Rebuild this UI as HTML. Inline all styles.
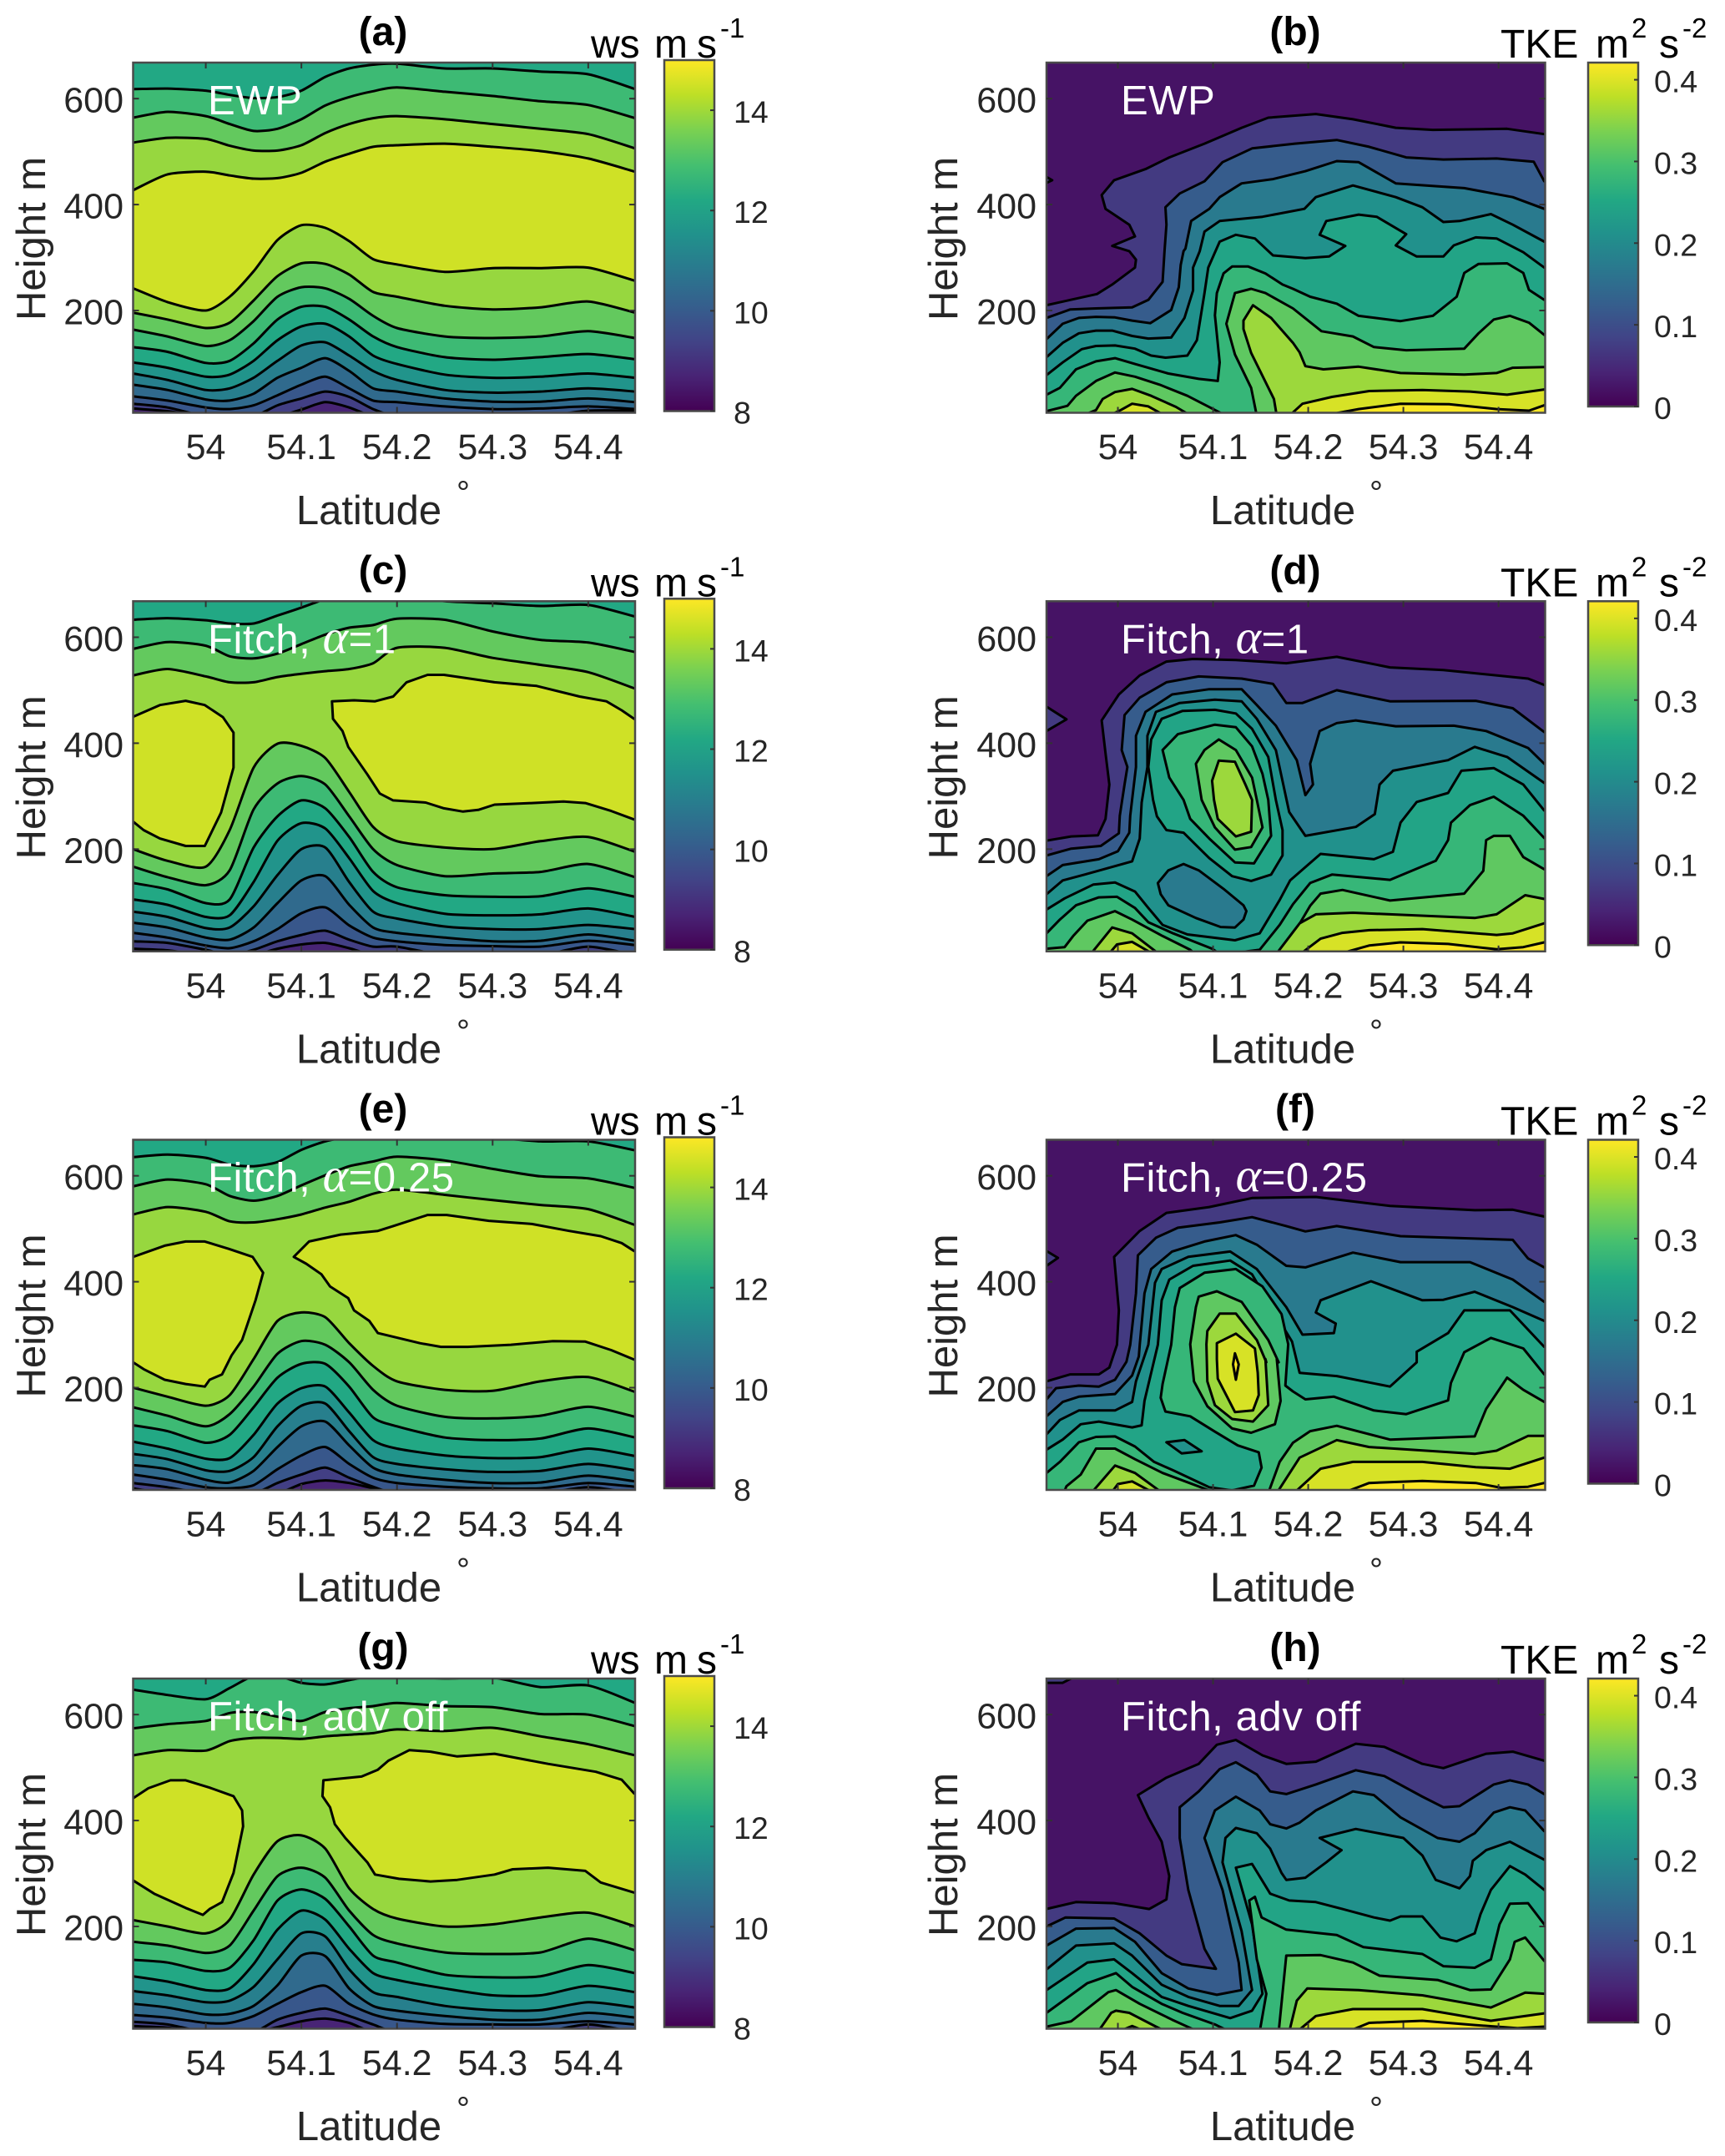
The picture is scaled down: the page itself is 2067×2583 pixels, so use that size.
<!DOCTYPE html>
<html lang="en">
<head>
<meta charset="utf-8">
<title>Wind speed and TKE cross-sections</title>
<style>
html,body{margin:0;padding:0;background:#fff}
svg{display:block}
text{font-family:"Liberation Sans",Arial,sans-serif;fill:#262626}
.ttl{font-size:48px;font-weight:bold;text-anchor:middle;fill:#000}
.cbt{font-size:48px;fill:#000}
.sup{font-size:33px}
.xl,.yl{font-size:49px;text-anchor:middle}
.deg{font-size:40px;text-anchor:middle}
.ann{font-size:49px;fill:#fff;letter-spacing:.6px}
.gr{font-family:"Liberation Serif",serif;font-style:italic;font-size:58px}
</style>
</head>
<body>
<svg id="fig" xmlns="http://www.w3.org/2000/svg" width="2067" height="2583" viewBox="0 0 2067 2583">
<defs>
<clipPath id="clipL"><rect x="159.5" y="75" width="601.5" height="419.5"/></clipPath>
<clipPath id="clipR"><rect x="1254" y="75" width="597.5" height="419.5"/></clipPath>
<linearGradient id="vir" x1="0" y1="1" x2="0" y2="0"></linearGradient>
</defs>

<g id="panel-a" transform="translate(0,0)">
<g class="marks"></g>
<text class="ttl" x="459" y="54">(a)</text>
<text class="cbt" y="69"><tspan x="708">ws</tspan><tspan x="784">m</tspan><tspan x="835">s</tspan></text>
<text class="sup" x="863" y="45" fill="#000" style="fill:#000">-1</text>
<text class="xl" x="442" y="628">Latitude</text>
<text class="deg" x="555" y="604">°</text>
<text class="yl" x="54" y="286" transform="rotate(-90 54 286)">Height m</text>
<text class="ann" x="249" y="137">EWP</text>
</g>

<g id="panel-b" transform="translate(0,0)">
<g class="marks"></g>
<text class="ttl" x="1552" y="54">(b)</text>
<text class="cbt" y="69"><tspan x="1798">TKE</tspan><tspan x="1912">m</tspan><tspan x="1988">s</tspan></text>
<text class="sup" y="45" style="fill:#000"><tspan x="1955">2</tspan><tspan x="2016">-2</tspan></text>
<text class="xl" x="1537" y="628">Latitude</text>
<text class="deg" x="1649" y="604">°</text>
<text class="yl" x="1147" y="286" transform="rotate(-90 1147 286)">Height m</text>
<text class="ann" x="1343" y="137">EWP</text>
</g>

<g id="panel-c" transform="translate(0,645.3)">
<g class="marks"></g>
<text class="ttl" x="459" y="54">(c)</text>
<text class="cbt" y="69"><tspan x="708">ws</tspan><tspan x="784">m</tspan><tspan x="835">s</tspan></text>
<text class="sup" x="863" y="45" style="fill:#000">-1</text>
<text class="xl" x="442" y="628">Latitude</text>
<text class="deg" x="555" y="604">°</text>
<text class="yl" x="54" y="286" transform="rotate(-90 54 286)">Height m</text>
<text class="ann" x="249" y="137">Fitch, <tspan class="gr" style="fill:#fff">α</tspan>=1</text>
</g>

<g id="panel-d" transform="translate(0,645.3)">
<g class="marks"></g>
<text class="ttl" x="1552" y="54">(d)</text>
<text class="cbt" y="69"><tspan x="1798">TKE</tspan><tspan x="1912">m</tspan><tspan x="1988">s</tspan></text>
<text class="sup" y="45" style="fill:#000"><tspan x="1955">2</tspan><tspan x="2016">-2</tspan></text>
<text class="xl" x="1537" y="628">Latitude</text>
<text class="deg" x="1649" y="604">°</text>
<text class="yl" x="1147" y="286" transform="rotate(-90 1147 286)">Height m</text>
<text class="ann" x="1343" y="137">Fitch, <tspan class="gr" style="fill:#fff">α</tspan>=1</text>
</g>

<g id="panel-e" transform="translate(0,1290.5)">
<g class="marks"></g>
<text class="ttl" x="459" y="54">(e)</text>
<text class="cbt" y="69"><tspan x="708">ws</tspan><tspan x="784">m</tspan><tspan x="835">s</tspan></text>
<text class="sup" x="863" y="45" style="fill:#000">-1</text>
<text class="xl" x="442" y="628">Latitude</text>
<text class="deg" x="555" y="604">°</text>
<text class="yl" x="54" y="286" transform="rotate(-90 54 286)">Height m</text>
<text class="ann" x="249" y="137">Fitch, <tspan class="gr" style="fill:#fff">α</tspan>=0.25</text>
</g>

<g id="panel-f" transform="translate(0,1290.5)">
<g class="marks"></g>
<text class="ttl" x="1552" y="54">(f)</text>
<text class="cbt" y="69"><tspan x="1798">TKE</tspan><tspan x="1912">m</tspan><tspan x="1988">s</tspan></text>
<text class="sup" y="45" style="fill:#000"><tspan x="1955">2</tspan><tspan x="2016">-2</tspan></text>
<text class="xl" x="1537" y="628">Latitude</text>
<text class="deg" x="1649" y="604">°</text>
<text class="yl" x="1147" y="286" transform="rotate(-90 1147 286)">Height m</text>
<text class="ann" x="1343" y="137">Fitch, <tspan class="gr" style="fill:#fff">α</tspan>=0.25</text>
</g>

<g id="panel-g" transform="translate(0,1936)">
<g class="marks"></g>
<text class="ttl" x="459" y="54">(g)</text>
<text class="cbt" y="69"><tspan x="708">ws</tspan><tspan x="784">m</tspan><tspan x="835">s</tspan></text>
<text class="sup" x="863" y="45" style="fill:#000">-1</text>
<text class="xl" x="442" y="628">Latitude</text>
<text class="deg" x="555" y="604">°</text>
<text class="yl" x="54" y="286" transform="rotate(-90 54 286)">Height m</text>
<text class="ann" x="249" y="137">Fitch, adv off</text>
</g>

<g id="panel-h" transform="translate(0,1936)">
<g class="marks"></g>
<text class="ttl" x="1552" y="54">(h)</text>
<text class="cbt" y="69"><tspan x="1798">TKE</tspan><tspan x="1912">m</tspan><tspan x="1988">s</tspan></text>
<text class="sup" y="45" style="fill:#000"><tspan x="1955">2</tspan><tspan x="2016">-2</tspan></text>
<text class="xl" x="1537" y="628">Latitude</text>
<text class="deg" x="1649" y="604">°</text>
<text class="yl" x="1147" y="286" transform="rotate(-90 1147 286)">Height m</text>
<text class="ann" x="1343" y="137">Fitch, adv off</text>
</g>
</svg>

<script>
// ---------- axis values ----------
const latTicks = [54, 54.1, 54.2, 54.3, 54.4];
const latTickLabels = ['54', '54.1', '54.2', '54.3', '54.4'];
const heightTicks = [200, 400, 600];
const heightTickLabels = ['200', '400', '600'];
const wsTicks = [8, 10, 12, 14];
const wsTickLabels = ['8', '10', '12', '14'];
const tkeTicks = [0, 0.1, 0.2, 0.3, 0.4];
const tkeTickLabels = ['0', '0.1', '0.2', '0.3', '0.4'];

// latitudes shared by every single-valued wind-speed contour (deg N)
const wsLat = [53.924,53.96,54,54.025,54.05,54.075,54.1,54.125,54.15,54.175,54.2,54.25,54.3,54.35,54.4,54.449];
// value of the background (index 0) and of the band filled by contour k (m2 s-2)
const tkeBands = [0.021,0.071,0.122,0.172,0.21,0.244,0.277,0.315,0.357,0.395,0.42];

// ---------- panel (a) wind speed: band value under each contour, contour height (m) at wsLat ----------
const panelA = [
{band:12.75,h:[618,619,615,607,601,603,615,641,657,664,666,657,657,651,646,618]},
{band:13.3,h:[564,575,567,552,539,543,561,587,603,614,621,613,605,595,588,563]},
{band:13.9,h:[517,526,524,511,502,502,512,535,552,563,567,561,552,543,533,506]},
{band:14.5,h:[427,457,462,455,449,450,460,481,496,509,512,515,509,501,487,462]},
{band:13.9,h:[242,216,200,226,274,333,361,356,331,297,287,273,280,280,281,256]},
{band:13.3,h:[196,183,167,177,219,265,289,288,268,235,226,209,202,206,217,196]},
{band:12.75,h:[164,151,133,144,180,226,244,242,222,190,167,151,148,151,161,148]},
{band:12.2,h:[131,122,101,105,138,183,207,207,183,151,131,112,107,112,118,108]},
{band:11.6,h:[102,92,75,79,105,144,170,175,151,115,99,79,73,75,81,73]},
{band:11,h:[81,69,50,53,73,105,134,140,115,86,69,50,45,47,53,47]},
{band:10.4,h:[60,50,32,30,43,73,92,110,86,53,47,34,28,28,34,27]},
{band:9.9,h:[38,30,17,14,21,40,60,75,53,30,27,19,14,15,19,14]},
{band:9.3,h:[24,17,0,0,0,21,34,47,37,14,0,0,0,0,11,11]},
{band:8.7,h:[15,10,0,0,0,0,13,27,17,0,0,0,0,0,0,0]}
];

// ---------- panel (c) ----------
const panelC = [
{band:12.75,h:[633,636,632,626,626,641,656,672,682,682,679,668,664,659,661,639]},
{band:13.3,h:[578,591,584,564,560,569,587,605,618,623,635,633,611,595,590,572]},
{band:13.9,h:[528,540,526,515,515,525,531,536,540,551,580,580,561,548,534,503]},
{band:14.5,closed:true,lat:[53.9,53.924,53.952,53.979,53.999,54.018,54.029,54.029,54.016,53.999,53.979,53.952,53.935,53.924,53.9],h:[450,450,472,480,472,449,420,354,269,206,206,220,236,252,252]},
{band:14.5,closed:true,lat:[54.132,54.155,54.177,54.196,54.21,54.232,54.249,54.302,54.346,54.391,54.419,54.435,54.448,54.47,54.47,54.448,54.424,54.397,54.374,54.341,54.302,54.285,54.269,54.249,54.23,54.196,54.182,54.169,54.149,54.143,54.133],h:[479,481,479,488,515,529,529,515,508,488,479,462,446,446,256,256,272,287,290,287,284,274,271,277,288,292,305,341,393,423,446]},
{band:13.3,h:[200,178,167,236,354,399,395,372,308,242,215,203,200,215,223,195]},
{band:12.75,h:[167,147,132,160,275,324,338,322,262,200,170,149,154,157,172,147]},
{band:12.2,h:[136,124,98,105,203,262,292,277,223,157,128,113,110,111,126,110]},
{band:11.6,h:[105,95,72,75,138,216,249,239,183,121,98,78,75,77,88,72]},
{band:11,h:[82,72,51,52,92,151,200,203,138,82,69,54,49,49,57,49]},
{band:10.4,h:[61,52,33,29,52,98,141,149,95,52,42,33,26,27,39,27]},
{band:9.9,h:[42,33,18,13,26,49,79,90,56,33,26,19,17,16,27,19]},
{band:9.3,h:[26,23,10,0,10,26,38,46,29,16,16,0,0,0,16,0]},
{band:8.7,h:[12,9,0,0,0,12,20,23,13,0,0,0,0,0,0,0]}
];

// ---------- panel (e) ----------
const panelE = [
{band:12.75,h:[635,640,634,621,618,626,649,665,673,675,675,675,672,665,665,648]},
{band:13.3,h:[580,593,584,562,553,562,582,601,618,627,636,629,613,599,595,577]},
{band:13.9,h:[527,541,532,514,512,518,527,540,551,566,574,564,554,545,537,507]},
{band:14.5,closed:true,lat:[53.9,53.924,53.957,53.979,53.999,54.024,54.049,54.06,54.052,54.038,54.027,54.017,54.004,53.999,53.979,53.957,53.935,53.924,53.9],h:[447,447,468,476,476,462,447,417,365,290,261,225,215,202,207,215,235,248,248]},
{band:14.5,closed:true,lat:[54.092,54.108,54.141,54.18,54.196,54.232,54.252,54.296,54.341,54.38,54.413,54.435,54.448,54.47,54.47,54.448,54.424,54.397,54.363,54.319,54.274,54.246,54.224,54.18,54.171,54.155,54.149,54.13,54.121,54.105],h:[447,476,489,496,505,526,526,515,509,496,486,473,458,458,253,253,271,287,288,281,277,277,284,303,326,346,369,391,414,434]},
{band:13.3,h:[200,183,166,186,254,326,342,333,284,241,212,196,194,212,220,192]},
{band:12.75,h:[163,147,127,150,202,264,288,281,248,196,166,145,142,147,164,145]},
{band:12.2,h:[129,118,96,111,163,219,245,245,202,144,127,106,101,104,123,106]},
{band:11.6,h:[98,85,66,67,111,170,199,202,153,101,85,72,67,69,85,71]},
{band:11,h:[75,65,44,43,69,127,166,170,118,69,56,46,41,43,56,44]},
{band:10.4,h:[54,46,26,21,43,88,127,136,91,49,36,26,20,21,34,23]},
{band:9.9,h:[36,26,12,10,16,46,72,88,56,30,20,13,10,10,20,13]},
{band:9.3,h:[20,12,0,0,0,20,36,49,30,13,0,0,0,0,12,0]},
{band:8.7,h:[10,0,0,0,0,0,18,25,20,10,0,0,0,0,0,0]}
];

// ---------- panel (g) ----------
const panelG = [
{band:12.75,h:[647,637,629,650,673,673,660,657,665,673,673,668,670,652,655,622]},
{band:13.3,h:[574,582,588,603,605,596,588,605,612,616,622,616,614,601,600,578]},
{band:13.9,h:[523,533,532,550,556,556,554,559,562,565,572,569,575,559,544,523]},
{band:14.5,closed:true,lat:[53.9,53.924,53.94,53.963,53.979,54.004,54.029,54.038,54.039,54.029,54.017,54.004,53.997,53.979,53.946,53.924,53.9],h:[442,442,461,476,476,462,446,419,389,301,246,233,222,235,262,287,287]},
{band:14.5,closed:true,lat:[54.123,54.163,54.18,54.191,54.213,54.235,54.263,54.302,54.358,54.408,54.435,54.448,54.47,54.47,54.448,54.413,54.397,54.358,54.321,54.302,54.263,54.235,54.202,54.177,54.169,54.146,54.135,54.13,54.122],h:[476,483,496,513,533,530,521,526,507,492,477,451,451,264,264,283,305,311,308,298,288,285,290,298,321,367,393,425,446]},
{band:13.3,h:[212,200,187,213,298,361,372,347,272,233,215,200,204,217,226,200]},
{band:12.75,h:[171,164,150,164,230,295,311,292,230,184,168,151,148,151,177,155]},
{band:12.2,h:[137,132,116,122,174,249,270,252,200,145,132,109,104,106,127,112]},
{band:11.6,h:[106,96,80,83,129,194,230,213,158,112,99,83,70,70,88,76]},
{band:11,h:[78,70,57,60,86,138,187,181,119,76,67,50,42,42,57,47]},
{band:10.4,h:[54,47,34,35,50,89,145,144,83,50,41,31,24,24,37,28]},
{band:9.9,h:[33,28,18,18,31,54,76,88,54,34,24,16,15,15,21,15]},
{band:9.3,h:[20,15,0,0,0,24,37,45,31,15,0,0,0,0,15,0]},
{band:8.7,h:[12,9,0,0,0,10,21,26,18,0,0,0,0,0,0,0]}
];

// ---------- panel (b) TKE: index into tkeBands, contour path in latitude / height ----------
const panelB = [
{k:1,closed:true,lat:[53.91,53.925,53.931,53.925,53.91],h:[452,452,446,441,441]},
{k:1,lat:[53.925,53.95,53.978,53.994,54.018,54.019,54.012,53.994,54.018,54.012,53.987,53.983,53.996,54.029,54.054,54.091,54.13,54.158,54.208,54.247,54.292,54.331,54.409,54.448],h:[210,220,231,249,281,296,312,322,340,362,392,418,446,467,489,515,545,564,571,561,545,541,543,533]},
{k:2,lat:[53.925,53.95,53.977,54.015,54.032,54.047,54.049,54.051,54.05,54.065,54.091,54.11,54.141,54.186,54.23,54.264,54.303,54.342,54.398,54.437,54.448],h:[186,202,204,206,220,254,312,362,395,421,444,480,506,515,522,509,489,485,487,481,444]},
{k:3,lat:[53.925,53.942,53.959,53.977,53.997,54.015,54.034,54.056,54.064,54.066,54.069,54.071,54.077,54.096,54.107,54.13,54.163,54.197,54.23,54.253,54.292,54.364,54.415,54.448],h:[146,175,186,188,187,181,176,201,244,286,312,317,369,392,414,440,448,463,482,480,440,431,414,392]},
{k:4,lat:[53.925,53.942,53.959,53.977,53.994,54.015,54.032,54.056,54.07,54.079,54.079,54.086,54.091,54.107,54.152,54.196,54.208,54.247,54.292,54.32,54.342,54.359,54.392,54.415,54.448],h:[112,139,157,162,162,152,147,149,186,238,281,312,349,369,377,392,414,436,414,395,367,369,382,362,330]},
{k:5,lat:[53.925,53.942,53.962,53.977,53.997,54.018,54.035,54.05,54.073,54.083,54.091,54.095,54.107,54.124,54.144,54.163,54.197,54.222,54.239,54.212,54.219,54.253,54.272,54.303,54.292,54.314,54.342,54.353,54.376,54.398,54.426,54.448],h:[78,102,127,133,134,128,115,111,115,144,233,281,330,343,336,304,299,302,322,343,369,381,377,344,323,302,302,323,338,336,310,281]},
{k:6,lat:[53.925,53.939,53.956,53.977,53.997,54.018,54.053,54.085,54.105,54.107,54.102,54.104,54.111,54.12,54.137,54.155,54.173,54.184,54.202,54.23,54.253,54.297,54.331,54.356,54.364,54.379,54.409,54.426,54.432,54.448],h:[41,54,89,104,110,99,81,71,67,102,191,233,270,283,283,270,249,241,226,213,190,180,190,226,271,288,289,271,239,220]},
{k:7,lat:[53.925,53.947,53.956,53.977,53.997,54.018,54.044,54.073,54.099,54.114,54.146,54.14,54.123,54.114,54.123,54.14,54.155,54.184,54.214,54.247,54.269,54.303,54.364,54.379,54.395,54.412,54.432,54.448],h:[10,20,39,67,83,75,60,39,15,1,1,54,117,175,233,241,233,204,161,151,131,125,128,157,183,190,177,154]},
{k:8,closed:true,lat:[53.962,53.977,53.984,53.997,54.015,54.035,54.061,54.077],h:[1,12,33,46,52,39,18,1]},
{k:8,closed:true,lat:[54.167,54.164,54.14,54.132,54.132,54.142,54.161,54.184,54.191,54.197,54.216,54.253,54.297,54.364,54.398,54.415,54.47,54.47],h:[1,33,120,165,181,210,186,139,121,95,89,94,82,79,82,92,94,1]},
{k:9,closed:true,lat:[53.99,54.003,54.015,54.032,54.05],h:[1,12,24,19,1]},
{k:9,closed:true,lat:[54.18,54.194,54.225,54.264,54.32,54.37,54.409,54.448,54.47,54.47],h:[1,24,37,48,50,47,41,51,51,1]},
{k:10,closed:true,lat:[54.214,54.253,54.297,54.348,54.398,54.432,54.448,54.47,54.47],h:[1,14,24,23,14,11,21,21,1]}
];

// ---------- panel (d) ----------
const panelD = [
{k:1,closed:true,lat:[53.91,53.925,53.946,53.925,53.91],h:[469,469,445,423,423]},
{k:1,lat:[53.925,53.951,53.979,53.987,53.991,53.987,53.983,54.001,54.023,54.051,54.079,54.124,54.177,54.23,54.286,54.342,54.431,54.448],h:[216,224,226,257,322,381,443,492,528,554,559,557,551,563,543,538,522,510]},
{k:2,lat:[53.925,53.951,53.982,54.001,54.002,54.007,54.01,54.004,54.007,54.023,54.051,54.085,54.13,54.163,54.177,54.194,54.23,54.286,54.376,54.415,54.448],h:[188,201,206,230,263,322,355,387,453,486,515,526,522,512,476,476,500,479,480,466,421]},
{k:3,lat:[53.925,53.942,53.98,54,54.012,54.013,54.019,54.019,54.029,54.057,54.096,54.13,54.146,54.166,54.188,54.197,54.205,54.202,54.212,54.23,54.25,54.292,54.353,54.387,54.431,54.448],h:[149,170,181,196,231,263,355,414,459,492,502,502,472,433,368,302,322,361,423,438,443,432,433,423,391,361]},
{k:4,lat:[53.925,53.942,53.965,54.015,54.023,54.025,54.031,54.031,54.04,54.065,54.102,54.13,54.146,54.166,54.18,54.197,54.25,54.27,54.275,54.289,54.347,54.375,54.409,54.448],h:[115,141,152,177,220,288,355,414,459,476,482,479,446,387,270,225,242,266,322,348,368,393,374,325]},
{k:3,closed:true,lat:[54.042,54.053,54.069,54.085,54.111,54.132,54.135,54.132,54.123,54.108,54.082,54.053,54.045],h:[136,160,172,160,125,94,83,67,52,53,70,94,115]},
{k:5,lat:[53.925,53.944,53.974,53.997,54.018,54.032,54.047,54.073,54.123,54.149,54.17,54.181,54.213,54.269,54.289,54.297,54.314,54.347,54.361,54.395,54.426,54.448],h:[86,107,133,137,120,89,57,39,28,41,104,141,191,181,195,250,289,306,348,353,322,273]},
{k:5,closed:true,lat:[54.037,54.032,54.035,54.046,54.068,54.102,54.124,54.141,54.158,54.166,54.173,54.173,54.161,54.14,54.12,54.096,54.069,54.051,54.041],h:[293,355,407,446,461,463,456,427,374,293,236,188,152,140,149,183,231,236,262]},
{k:6,closed:true,lat:[54.069,54.054,54.047,54.063,54.102,54.124,54.141,54.152,54.158,54.161,54.143,54.123,54.096,54.076],h:[293,335,387,417,435,430,394,342,293,225,173,175,220,257]},
{k:7,closed:true,lat:[54.088,54.082,54.091,54.106,54.124,54.141,54.146,54.152,54.14,54.123,54.102],h:[293,361,387,407,387,335,293,241,204,199,241]},
{k:8,closed:true,lat:[54.101,54.099,54.106,54.123,54.134,54.141,54.14,54.124,54.105],h:[293,329,367,365,322,293,233,224,257]},
{k:6,lat:[53.925,53.939,53.956,53.98,53.999,54.018,54.032,54.058,54.099,54.108,54.149,54.17,54.184,54.202,54.225,54.286,54.334,54.347,54.35,54.37,54.395,54.426,54.448],h:[41,67,94,109,110,89,62,41,12,1,10,57,96,136,152,142,178,217,250,283,299,263,221]},
{k:7,lat:[53.925,53.944,53.953,53.968,53.997,54.015,54.047,54.076,54.082,54.167,54.184,54.202,54.213,54.236,54.286,54.364,54.384,54.387,54.395,54.412,54.426,54.448],h:[12,15,36,65,83,67,36,10,1,1,38,93,116,123,103,116,159,217,225,225,185,162]},
{k:8,closed:true,lat:[53.971,53.994,54.015,54.044],h:[1,52,41,1]},
{k:8,closed:true,lat:[54.166,54.191,54.208,54.247,54.375,54.398,54.428,54.448,54.47,54.47],h:[1,60,77,80,70,77,113,106,106,1]},
{k:9,closed:true,lat:[53.99,53.999,54.015,54.038],h:[1,20,25,1]},
{k:9,closed:true,lat:[54.191,54.213,54.236,54.264,54.32,54.398,54.415,54.448,54.47,54.47],h:[1,31,42,47,49,38,41,60,60,1]},
{k:10,closed:true,lat:[54.23,54.264,54.297,54.347,54.398,54.426,54.448,54.47,54.47],h:[1,18,24,21,11,15,24,24,1]}
];

// ---------- panel (f) ----------
const panelF = [
{k:1,closed:true,lat:[53.91,53.925,53.937,53.925,53.91],h:[458,458,445,430,430]},
{k:1,lat:[53.925,53.95,53.98,53.991,53.999,54.001,53.996,54.023,54.051,54.096,54.141,54.208,54.286,54.375,54.415,54.448],h:[212,225,225,238,281,346,447,496,530,541,558,560,543,535,536,523]},
{k:2,lat:[53.925,53.935,53.959,53.98,53.997,54.009,54.013,54.019,54.021,54.04,54.063,54.107,54.141,54.177,54.197,54.23,54.297,54.415,54.431,54.448],h:[178,199,204,202,215,249,281,378,450,483,502,512,522,505,495,505,486,479,444,427]},
{k:3,lat:[53.925,53.942,53.959,53.997,54.015,54.022,54.023,54.028,54.035,54.057,54.091,54.124,54.146,54.177,54.197,54.247,54.297,54.37,54.415,54.448],h:[146,173,183,188,223,259,281,378,424,457,476,488,470,430,427,455,437,437,404,362]},
{k:4,lat:[53.925,53.939,53.959,53.997,54.015,54.019,54.032,54.039,54.046,54.074,54.118,54.146,54.177,54.194,54.227,54.229,54.208,54.213,54.266,54.32,54.342,54.375,54.415,54.448],h:[112,139,157,157,173,212,281,398,424,447,457,424,352,300,303,321,342,365,401,365,366,381,352,326]},
{k:5,lat:[53.925,53.942,53.961,53.98,54.015,54.025,54.028,54.042,54.046,54.054,54.079,54.118,54.141,54.163,54.183,54.191,54.23,54.286,54.314,54.314,54.347,54.364,54.412,54.448],h:[83,102,131,136,125,129,175,281,365,404,430,440,414,346,287,228,222,202,248,268,303,346,346,277]},
{k:6,lat:[53.925,53.939,53.959,53.977,53.997,54.018,54.038,54.058,54.096,54.12,54.143,54.151,54.148,54.126,54.102,54.076,54.05,54.045,54.047,54.056,54.06,54.065,54.091,54.124,54.152,54.172,54.179,54.176,54.184,54.197,54.227,54.269,54.303,54.347,54.35,54.364,54.392,54.426,54.448],h:[39,60,97,107,108,89,60,44,12,6,15,49,78,91,117,146,155,181,207,281,352,388,417,424,391,339,282,204,193,178,183,157,150,176,209,267,294,274,225]},
{k:4,closed:true,lat:[54.051,54.07,54.088,54.067],h:[97,101,80,76]},
{k:7,closed:true,lat:[53.943,53.946,53.961,53.977,53.997,54.018,54.047,54.096,54.102],h:[1,14,36,85,85,65,39,6,1]},
{k:7,closed:true,lat:[54.158,54.17,54.184,54.202,54.23,54.286,54.375,54.387,54.409,54.426,54.448,54.47,54.47],h:[1,60,96,118,128,102,108,160,219,196,173,173,1]},
{k:7,closed:true,lat:[54.076,54.082,54.085,54.104,54.13,54.158,54.169,54.167,54.171,54.165,54.14,54.12,54.094,54.08],h:[282,352,372,382,362,290,248,254,175,131,115,123,165,212]},
{k:8,closed:true,lat:[54.093,54.094,54.107,54.124,54.146,54.156,54.155,54.158,54.142,54.12,54.102,54.094],h:[282,307,340,340,290,248,254,167,136,141,167,212]},
{k:9,closed:true,lat:[54.104,54.104,54.124,54.144,54.147,54.148,54.142,54.123,54.105],h:[254,284,302,274,228,186,157,154,217]},
{k:10,closed:true,lat:[54.123,54.127,54.124,54.121],h:[265,244,215,244]},
{k:8,closed:true,lat:[53.972,53.997,54.018,54.047],h:[1,53,39,1]},
{k:8,closed:true,lat:[54.167,54.191,54.23,54.264,54.375,54.398,54.431,54.448,54.47,54.47],h:[1,68,101,88,75,81,109,109,109,1]},
{k:9,closed:true,lat:[53.993,54,54.015,54.038],h:[1,18,23,1]},
{k:9,closed:true,lat:[54.185,54.213,54.247,54.32,54.376,54.412,54.448,54.47,54.47],h:[1,47,60,60,50,47,68,68,1]},
{k:10,closed:true,lat:[54.236,54.264,54.32,54.376,54.403,54.431,54.448,54.47,54.47],h:[1,20,24,20,11,13,20,20,1]}
];

// ---------- panel (h) ----------
const panelH = [
{k:1,closed:true,lat:[53.91,53.942,53.955,53.91],h:[660,660,672,672]},
{k:1,lat:[53.925,53.956,53.996,54.033,54.051,54.054,54.046,54.032,54.021,54.051,54.085,54.104,54.124,54.152,54.177,54.208,54.25,54.28,54.32,54.342,54.387,54.415,54.448],h:[233,246,244,233,251,295,360,406,448,481,507,543,552,523,507,511,545,539,507,499,526,530,513]},
{k:2,lat:[53.925,53.945,53.996,54.023,54.051,54.067,54.103,54.091,54.074,54.065,54.065,54.085,54.107,54.124,54.146,54.16,54.177,54.208,54.25,54.28,54.32,54.342,54.359,54.395,54.412,54.431,54.448],h:[200,217,215,187,145,129,120,158,269,367,425,455,497,510,487,455,450,468,495,484,445,425,427,468,476,468,450]},
{k:3,lat:[53.925,53.956,53.996,54.018,54.046,54.074,54.104,54.13,54.127,54.11,54.091,54.102,54.124,54.149,54.16,54.177,54.191,54.208,54.247,54.269,54.297,54.336,54.359,54.375,54.395,54.412,54.428,54.448],h:[164,196,197,171,112,83,71,80,132,269,367,419,445,419,393,385,396,419,455,448,406,367,360,376,415,425,419,380]},
{k:4,lat:[53.925,53.956,53.996,54.015,54.046,54.074,54.107,54.127,54.141,54.13,54.11,54.113,54.124,54.146,54.16,54.172,54.177,54.197,54.219,54.235,54.212,54.25,54.3,54.32,54.334,54.359,54.37,54.373,54.387,54.412,54.448],h:[119,164,168,145,90,67,50,50,80,191,321,367,386,376,347,301,288,292,321,344,367,384,367,334,288,272,295,324,344,360,326]},
{k:5,lat:[53.925,53.968,53.996,54.015,54.046,54.074,54.118,54.141,54.152,54.141,54.124,54.141,54.16,54.18,54.208,54.236,54.269,54.286,54.297,54.32,54.339,54.356,54.375,54.381,54.392,54.412,54.428,54.448],h:[80,132,138,112,67,50,27,41,73,204,311,318,262,249,246,233,217,211,219,219,179,172,187,223,269,314,298,269]},
{k:6,lat:[53.925,53.968,53.998,54.015,54.046,54.068,54.102,54.118,54.149,54.156,54.146,54.138,54.144,54.151,54.177,54.23,54.258,54.32,54.342,54.375,54.392,54.401,54.412,54.431,54.448],h:[37,93,112,86,54,37,15,1,1,73,138,249,256,217,194,184,161,148,125,122,138,204,243,244,204]},
{k:7,closed:true,lat:[53.91,53.925,53.951,53.99,53.998,54.023,54.057,54.085,53.91],h:[11,11,21,76,80,54,24,1,1]},
{k:7,closed:true,lat:[54.169,54.177,54.213,54.247,54.275,54.336,54.37,54.392,54.412,54.417,54.428,54.448,54.47,54.47],h:[1,145,146,132,107,99,80,81,138,171,179,135,135,1]},
{k:8,closed:true,lat:[53.979,53.993,53.998,54.012,54.04,54.051],h:[1,37,41,37,11,1]},
{k:8,closed:true,lat:[54.18,54.188,54.199,54.253,54.32,54.392,54.428,54.448,54.47,54.47],h:[1,60,83,80,70,47,75,73,73,1]},
{k:9,closed:true,lat:[54,54.015,54.03],h:[1,12,1]},
{k:9,closed:true,lat:[54.188,54.208,54.247,54.32,54.392,54.448,54.47,54.47],h:[1,31,44,44,22,36,36,1]},
{k:10,closed:true,lat:[54.241,54.264,54.32,54.375,54.42,54.448,54.47,54.47],h:[1,18,22,14,8,11,11,1]}
];

// ---------- rendering ----------
const NS = 'http://www.w3.org/2000/svg';
const vir = ['#440154','#482475','#414487','#355f8d','#2a788e','#21918c','#22a884','#44bf70','#7ad151','#bddf26','#fde725'];
function hex2(c){return [1,3,5].map(i=>parseInt(c.substr(i,2),16));}
function viridis(t){
  t=Math.max(0,Math.min(1,t))*10;
  const i=Math.min(9,Math.floor(t)),f=t-i,a=hex2(vir[i]),b=hex2(vir[i+1]);
  return 'rgb('+a.map((v,n)=>Math.round(v+(b[n]-v)*f)).join(',')+')';
}
const grad=document.getElementById('vir');
vir.forEach((c,i)=>{
  const s=document.createElementNS(NS,'stop');
  s.setAttribute('offset',(i/10).toFixed(2));
  s.setAttribute('stop-color',c);
  grad.appendChild(s);
});

const plotTop=75, plotBottom=494.5, hMin=7, hMax=668;
const colL={left:159.5,right:761,latMin:53.924,latMax:54.449,clip:'clipL',tickEnd:148,cbL:796,cbR:856,cbTop:72,cbBot:492.5,cbLabel:879};
const colR={left:1254,right:1851.5,latMin:53.925,latMax:54.449,clip:'clipR',tickEnd:1242,cbL:1903,cbR:1963,cbTop:75,cbBot:487,cbLabel:1982};
const yOf=h=>plotBottom-(h-hMin)/(hMax-hMin)*(plotBottom-plotTop);

function drawTicks(g,col,xOf){
  const mk=(x1,y1,x2,y2)=>{
    const l=document.createElementNS(NS,'line');
    
    
    l.setAttribute('x1',x1);l.setAttribute('y1',y1);l.setAttribute('x2',x2);l.setAttribute('y2',y2);
    l.setAttribute('stroke','#333');l.setAttribute('stroke-width','2');
    g.appendChild(l);
  };
  latTicks.forEach(v=>{const x=xOf(v);mk(x,plotBottom,x,plotBottom-7);mk(x,plotTop,x,plotTop+7);});
  heightTicks.forEach(v=>{const y=yOf(v);mk(col.left,y,col.left+7,y);mk(col.right,y,col.right-7,y);});
}

function addLabel(g,str,x,y,size,anchor,name){
  const t=document.createElementNS(NS,'text');
  
  
  t.setAttribute('x',x);t.setAttribute('y',y);
  t.setAttribute('font-size',size);t.setAttribute('text-anchor',anchor);
  t.textContent=str;
  g.appendChild(t);
}

// Catmull-Rom smoothing for the single-valued wind-speed contours
function smoothPath(pts){
  let d='';
  for(let i=0;i<pts.length-1;i++){
    const p0=pts[Math.max(0,i-1)],p1=pts[i],p2=pts[i+1],p3=pts[Math.min(pts.length-1,i+2)];
    const c1=[p1[0]+(p2[0]-p0[0])/8,p1[1]+(p2[1]-p0[1])/8];
    const c2=[p2[0]-(p3[0]-p1[0])/8,p2[1]-(p3[1]-p1[1])/8];
    d+='C'+c1[0].toFixed(1)+' '+c1[1].toFixed(1)+' '+c2[0].toFixed(1)+' '+c2[1].toFixed(1)+' '+p2[0].toFixed(1)+' '+p2[1].toFixed(1);
  }
  return d;
}

function drawPanel(id,col,contours,bgColor,colorOf){
  const g=document.querySelector('#panel-'+id+' .marks');
  const xOf=lat=>col.left+(lat-col.latMin)/(col.latMax-col.latMin)*(col.right-col.left);

  const bg=document.createElementNS(NS,'rect');
  
  
  bg.setAttribute('x',col.left);bg.setAttribute('y',plotTop);
  bg.setAttribute('width',col.right-col.left);bg.setAttribute('height',plotBottom-plotTop);
  bg.setAttribute('fill',bgColor);
  g.appendChild(bg);

  const clip=document.createElementNS(NS,'g');
  
  
  clip.setAttribute('clip-path','url(#'+col.clip+')');
  g.appendChild(clip);

  contours.forEach(c=>{
    const lats=c.lat||wsLat;
    const pts=lats.map((la,i)=>[xOf(la),yOf(c.h[i])]);
    let d;
    const line=a=>a.map(q=>q[0].toFixed(1)+' '+q[1].toFixed(1)).join('L');
    if(c.closed){
      d='M'+line(pts)+'Z';
    }else{
      const first=pts[0],last=pts[pts.length-1],below=plotBottom+30;
      const body=c.lat?('L'+line(pts)):('L'+first[0].toFixed(1)+' '+first[1].toFixed(1)+smoothPath(pts));
      d='M'+(first[0]-30)+' '+first[1].toFixed(1)+body+'L'+(last[0]+30)+' '+last[1].toFixed(1)+'L'+(last[0]+30)+' '+below+'L'+(first[0]-30)+' '+below+'Z';
    }
    const p=document.createElementNS(NS,'path');
    
    
    p.setAttribute('d',d);
    p.setAttribute('fill',colorOf(c));
    p.setAttribute('stroke','#000');
    p.setAttribute('stroke-width','3');
    p.setAttribute('stroke-linejoin','round');
    clip.appendChild(p);
  });

  const box=document.createElementNS(NS,'rect');
  
  
  box.setAttribute('x',col.left);box.setAttribute('y',plotTop);
  box.setAttribute('width',col.right-col.left);box.setAttribute('height',plotBottom-plotTop);
  box.setAttribute('fill','none');box.setAttribute('stroke','#4a4a4a');box.setAttribute('stroke-width','2.5');
  g.appendChild(box);

  drawTicks(g,col,xOf);
  latTicks.forEach((v,i)=>addLabel(g,latTickLabels[i],xOf(v),550,43,'middle','x-tick-label'));
  heightTicks.forEach((v,i)=>addLabel(g,heightTickLabels[i],col.tickEnd,yOf(v)+16.5,43,'end','y-tick-label'));
}

function drawColorbar(id,col,ticks,labels,vMin,vMax){
  const g=document.querySelector('#panel-'+id+' .marks');
  const r=document.createElementNS(NS,'rect');
  
  
  r.setAttribute('x',col.cbL);r.setAttribute('y',col.cbTop);
  r.setAttribute('width',col.cbR-col.cbL);r.setAttribute('height',col.cbBot-col.cbTop);
  r.setAttribute('fill','url(#vir)');r.setAttribute('stroke','#4a4a4a');r.setAttribute('stroke-width','2.5');
  g.appendChild(r);
  const yV=v=>col.cbBot-(v-vMin)/(vMax-vMin)*(col.cbBot-col.cbTop);
  ticks.forEach((v,i)=>{
    const l=document.createElementNS(NS,'line');
    
    
    l.setAttribute('x1',col.cbR-5);l.setAttribute('x2',col.cbR);
    l.setAttribute('y1',yV(v));l.setAttribute('y2',yV(v));
    l.setAttribute('stroke','#333');l.setAttribute('stroke-width','2');
    g.appendChild(l);
    addLabel(g,labels[i],col.cbLabel,yV(v)+15,37.5,'start','colorbar-tick-label');
  });
}

const wsColor=c=>viridis((c.band-8)/7);
const tkeColor=c=>viridis(tkeBands[c.k]/0.42);
const wsBg=viridis((12.2-8)/7);
const tkeBg=viridis(tkeBands[0]/0.42);

drawPanel('a',colL,panelA,wsBg,wsColor);
drawPanel('c',colL,panelC,wsBg,wsColor);
drawPanel('e',colL,panelE,wsBg,wsColor);
drawPanel('g',colL,panelG,wsBg,wsColor);
drawPanel('b',colR,panelB,tkeBg,tkeColor);
drawPanel('d',colR,panelD,tkeBg,tkeColor);
drawPanel('f',colR,panelF,tkeBg,tkeColor);
drawPanel('h',colR,panelH,tkeBg,tkeColor);
['a','c','e','g'].forEach(id=>drawColorbar(id,colL,wsTicks,wsTickLabels,8,15));
['b','d','f','h'].forEach(id=>drawColorbar(id,colR,tkeTicks,tkeTickLabels,0,0.421));
</script>
</body>
</html>
